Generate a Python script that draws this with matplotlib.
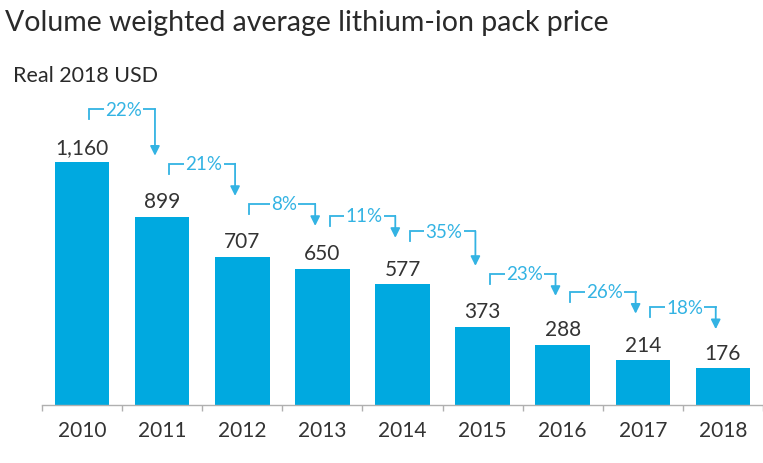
import matplotlib
matplotlib.use("Agg")
import matplotlib.pyplot as plt

years = ["2010", "2011", "2012", "2013", "2014", "2015", "2016", "2017", "2018"]
prices = [1160, 899, 707, 650, 577, 373, 288, 214, 176]
value_labels = ["1,160", "899", "707", "650", "577", "373", "288", "214", "176"]
drops = ["22%", "21%", "8%", "11%", "35%", "23%", "26%", "18%"]

plt.rcParams['font.family'] = ['Lato', 'DejaVu Sans']

W, H = 763, 464
fig = plt.figure(figsize=(W / 100, H / 100), dpi=100)
ax_left, ax_bottom = 42 / W, 58 / H
ax_h_px = 306
ax = fig.add_axes([ax_left, ax_bottom, (W - 42) / W, ax_h_px / H])
ymax = 1461
ax.set_ylim(0, ymax)
unit_px = 81.4
ax.set_xlim(-0.5, -0.5 + (W - 42) / unit_px)
ppu = ax_h_px / ymax  # pixels per data unit

bar_color = '#00A9E0'
arrow_color = '#33B3E3'
text_dark = '#333333'

x = list(range(len(years)))
ax.bar(x, prices, width=0.68, color=bar_color, zorder=2)

for xi, v, lab in zip(x, prices, value_labels):
    ax.annotate(lab, (xi, v), xytext=(0, 6.8), textcoords='offset points',
                ha='center', va='baseline', fontsize=15, color=text_dark)

# bracket arrows
for i, lab in enumerate(drops):
    v0, v1 = prices[i], prices[i + 1]
    yh = v0 + 53 / ppu
    diff_px = (v0 - v1) * ppu
    drop_px = max(diff_px - 8, 22)
    ytip = yh - drop_px / ppu
    xl = x[i] + 0.09
    xr = x[i + 1] - 0.09
    ax.plot([xl, xl, xr], [yh - 10 / ppu, yh, yh], color=arrow_color, lw=1.3,
            clip_on=False, solid_joinstyle='miter', zorder=3)
    ax.annotate('', xy=(xr, ytip), xytext=(xr, yh),
                arrowprops=dict(arrowstyle='-|>', color=arrow_color, lw=1.3,
                                mutation_scale=14, shrinkA=0, shrinkB=0),
                annotation_clip=False, zorder=3)
    ax.text((xl + xr) / 2 + 0.02, yh, lab, ha='center', va='center',
            fontsize=13.5, color=arrow_color, zorder=4,
            bbox=dict(fc='white', ec='none', pad=1.0))

for s in ['top', 'right', 'left']:
    ax.spines[s].set_visible(False)
ax.spines['bottom'].set_color('#b0b0b0')
ax.spines['bottom'].set_linewidth(1.0)
ax.set_yticks([])
ax.set_xticks(x)
ax.set_xticklabels(years, fontsize=15, color=text_dark)
ax.tick_params(axis='x', which='major', length=0, pad=11)
ax.set_xticks([i - 0.5 for i in range(len(years) + 1)], minor=True)
ax.tick_params(axis='x', which='minor', length=4.5, width=1.0, color='#b0b0b0')

fig.text(5 / W, 1 - 31 / H, "Volume weighted average lithium-ion pack price",
         ha='left', va='baseline', fontsize=20.5, color='#2a2a2a')
fig.text(13 / W, 1 - 82 / H, "Real 2018 USD",
         ha='left', va='baseline', fontsize=15.5, color='#2a2a2a')

fig.savefig('out.png', dpi=100)
